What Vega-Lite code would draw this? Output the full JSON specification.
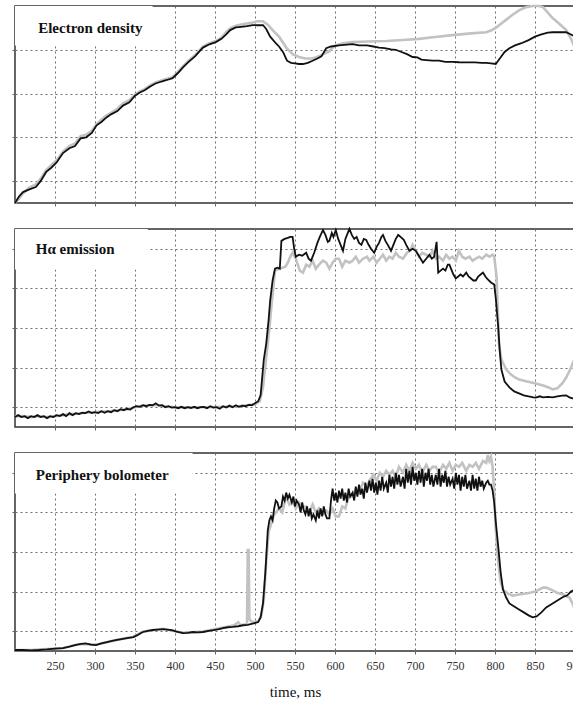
{
"$schema": "https://vega.github.io/schema/vega-lite/v6.json",
"padding": {"left": 9, "top": 0, "right": 0, "bottom": 0},
"background": "white",
"spacing": 26,
"bounds": "flush",
"config": {
 "view": {"stroke": "#333", "strokeWidth": 1.5},
 "axis": {"grid": true, "gridColor": "#6f6f6f", "gridDash": [2, 3], "gridWidth": 1, "tickColor": "#666", "tickSize": 3, "domain": false, "title": null, "labels": false},
 "line": {"clip": true}
},
"datasets": {
"ed_g": [{"t":200,"v":0},{"t":205,"v":0.2},{"t":210,"v":0.45},{"t":218,"v":0.7},{"t":226,"v":0.85},{"t":232,"v":1.1},{"t":239,"v":1.5},{"t":245,"v":1.72},{"t":252,"v":1.95},{"t":260,"v":2.35},{"t":268,"v":2.6},{"t":275,"v":2.72},{"t":282,"v":3.05},{"t":289,"v":3.12},{"t":296,"v":3.3},{"t":302,"v":3.6},{"t":308,"v":3.8},{"t":314,"v":4.0},{"t":320,"v":4.12},{"t":328,"v":4.3},{"t":335,"v":4.55},{"t":343,"v":4.7},{"t":350,"v":4.95},{"t":356,"v":5.1},{"t":362,"v":5.2},{"t":368,"v":5.35},{"t":375,"v":5.5},{"t":383,"v":5.6},{"t":390,"v":5.68},{"t":397,"v":5.75},{"t":404,"v":6.0},{"t":410,"v":6.25},{"t":417,"v":6.5},{"t":425,"v":6.75},{"t":430,"v":6.95},{"t":435,"v":7.15},{"t":443,"v":7.3},{"t":451,"v":7.4},{"t":458,"v":7.55},{"t":464,"v":7.8},{"t":469,"v":7.98},{"t":476,"v":8.1},{"t":483,"v":8.15},{"t":490,"v":8.2},{"t":497,"v":8.25},{"t":503,"v":8.3},{"t":510,"v":8.3},{"t":516,"v":8.15},{"t":522,"v":7.9},{"t":530,"v":7.6},{"t":539,"v":7.1},{"t":547,"v":6.8},{"t":555,"v":6.67},{"t":563,"v":6.6},{"t":572,"v":6.6},{"t":580,"v":6.7},{"t":588,"v":6.85},{"t":592,"v":6.9},{"t":597,"v":7.1},{"t":601,"v":7.2},{"t":610,"v":7.3},{"t":622,"v":7.35},{"t":640,"v":7.38},{"t":664,"v":7.4},{"t":685,"v":7.45},{"t":705,"v":7.5},{"t":725,"v":7.58},{"t":747,"v":7.67},{"t":770,"v":7.75},{"t":789,"v":7.8},{"t":795,"v":7.88},{"t":801,"v":8.0},{"t":808,"v":8.2},{"t":815,"v":8.4},{"t":822,"v":8.6},{"t":830,"v":8.8},{"t":839,"v":8.95},{"t":847,"v":9.0},{"t":855,"v":9.0},{"t":860,"v":8.95},{"t":866,"v":8.7},{"t":872,"v":8.45},{"t":880,"v":8.2},{"t":889,"v":7.9},{"t":895,"v":7.5},{"t":900,"v":7.07}],
"ed_b": [{"t":200,"v":0},{"t":205,"v":0.3},{"t":210,"v":0.5},{"t":218,"v":0.62},{"t":226,"v":0.73},{"t":232,"v":1.0},{"t":239,"v":1.42},{"t":245,"v":1.6},{"t":252,"v":1.85},{"t":260,"v":2.28},{"t":268,"v":2.5},{"t":275,"v":2.6},{"t":282,"v":2.95},{"t":289,"v":3.0},{"t":296,"v":3.2},{"t":302,"v":3.55},{"t":308,"v":3.7},{"t":314,"v":3.9},{"t":320,"v":4.05},{"t":328,"v":4.2},{"t":335,"v":4.45},{"t":343,"v":4.6},{"t":350,"v":4.9},{"t":356,"v":5.05},{"t":362,"v":5.15},{"t":368,"v":5.3},{"t":375,"v":5.45},{"t":383,"v":5.55},{"t":390,"v":5.62},{"t":397,"v":5.7},{"t":404,"v":5.95},{"t":410,"v":6.2},{"t":417,"v":6.45},{"t":425,"v":6.7},{"t":430,"v":6.9},{"t":435,"v":7.1},{"t":443,"v":7.25},{"t":451,"v":7.35},{"t":458,"v":7.5},{"t":464,"v":7.7},{"t":469,"v":7.9},{"t":476,"v":8.02},{"t":483,"v":8.05},{"t":490,"v":8.08},{"t":497,"v":8.13},{"t":503,"v":8.12},{"t":510,"v":8.13},{"t":514,"v":7.95},{"t":519,"v":7.6},{"t":526,"v":7.3},{"t":530,"v":7.15},{"t":535,"v":6.9},{"t":540,"v":6.5},{"t":545,"v":6.4},{"t":550,"v":6.38},{"t":555,"v":6.35},{"t":560,"v":6.35},{"t":566,"v":6.4},{"t":572,"v":6.5},{"t":578,"v":6.6},{"t":583,"v":6.7},{"t":589,"v":7.07},{"t":595,"v":7.15},{"t":605,"v":7.2},{"t":615,"v":7.24},{"t":622,"v":7.26},{"t":630,"v":7.2},{"t":640,"v":7.2},{"t":648,"v":7.15},{"t":655,"v":7.1},{"t":662,"v":7.08},{"t":670,"v":7.02},{"t":676,"v":7.0},{"t":683,"v":6.9},{"t":690,"v":6.8},{"t":697,"v":6.67},{"t":703,"v":6.65},{"t":708,"v":6.55},{"t":714,"v":6.53},{"t":722,"v":6.5},{"t":730,"v":6.5},{"t":738,"v":6.45},{"t":747,"v":6.45},{"t":755,"v":6.43},{"t":765,"v":6.42},{"t":775,"v":6.42},{"t":783,"v":6.4},{"t":789,"v":6.4},{"t":795,"v":6.38},{"t":801,"v":6.35},{"t":806,"v":6.6},{"t":812,"v":6.9},{"t":818,"v":7.07},{"t":825,"v":7.2},{"t":833,"v":7.3},{"t":842,"v":7.44},{"t":850,"v":7.6},{"t":858,"v":7.7},{"t":866,"v":7.78},{"t":872,"v":7.8},{"t":880,"v":7.8},{"t":889,"v":7.8},{"t":895,"v":7.7},{"t":900,"v":7.6}],
"ha_b": [{"t":200,"v":0.5},{"t":204,"v":0.6},{"t":208,"v":0.5},{"t":212,"v":0.55},{"t":216,"v":0.45},{"t":220,"v":0.55},{"t":224,"v":0.5},{"t":228,"v":0.6},{"t":232,"v":0.5},{"t":236,"v":0.55},{"t":240,"v":0.45},{"t":244,"v":0.55},{"t":248,"v":0.5},{"t":252,"v":0.6},{"t":256,"v":0.55},{"t":260,"v":0.65},{"t":264,"v":0.55},{"t":268,"v":0.7},{"t":272,"v":0.6},{"t":276,"v":0.7},{"t":280,"v":0.65},{"t":284,"v":0.72},{"t":288,"v":0.7},{"t":292,"v":0.78},{"t":296,"v":0.7},{"t":300,"v":0.75},{"t":304,"v":0.7},{"t":308,"v":0.8},{"t":312,"v":0.72},{"t":316,"v":0.8},{"t":320,"v":0.75},{"t":324,"v":0.85},{"t":328,"v":0.8},{"t":332,"v":0.9},{"t":336,"v":0.85},{"t":340,"v":0.92},{"t":344,"v":0.88},{"t":348,"v":1.0},{"t":352,"v":1.05},{"t":356,"v":1.02},{"t":360,"v":1.1},{"t":364,"v":1.05},{"t":368,"v":1.12},{"t":372,"v":1.1},{"t":376,"v":1.2},{"t":380,"v":1.08},{"t":384,"v":1.1},{"t":388,"v":1.0},{"t":392,"v":1.05},{"t":396,"v":0.98},{"t":400,"v":1.0},{"t":404,"v":0.95},{"t":408,"v":1.02},{"t":412,"v":0.95},{"t":416,"v":1.0},{"t":420,"v":0.96},{"t":424,"v":1.02},{"t":428,"v":0.95},{"t":432,"v":1.0},{"t":436,"v":1.02},{"t":440,"v":0.95},{"t":444,"v":1.05},{"t":448,"v":0.98},{"t":452,"v":1.0},{"t":456,"v":0.92},{"t":460,"v":1.05},{"t":464,"v":0.98},{"t":468,"v":1.08},{"t":472,"v":1.0},{"t":476,"v":1.1},{"t":480,"v":1.02},{"t":484,"v":1.08},{"t":488,"v":1.05},{"t":492,"v":1.12},{"t":496,"v":1.1},{"t":500,"v":1.2},{"t":504,"v":1.3},{"t":507,"v":1.6},{"t":509,"v":2.5},{"t":511,"v":3.4},{"t":514,"v":4.2},{"t":517,"v":5.4},{"t":519,"v":6.4},{"t":522,"v":7.4},{"t":525,"v":8.0},{"t":528,"v":8.05},{"t":531,"v":8.0},{"t":533,"v":9.4},{"t":537,"v":9.5},{"t":541,"v":9.55},{"t":544,"v":9.6},{"t":547,"v":9.6},{"t":549,"v":9.0},{"t":551,"v":8.6},{"t":555,"v":8.7},{"t":559,"v":8.65},{"t":564,"v":8.8},{"t":567,"v":8.5},{"t":570,"v":8.4},{"t":574,"v":8.8},{"t":578,"v":9.3},{"t":581,"v":9.6},{"t":585,"v":9.95},{"t":588,"v":9.7},{"t":591,"v":9.35},{"t":593,"v":9.4},{"t":596,"v":9.8},{"t":598,"v":9.6},{"t":601,"v":9.95},{"t":604,"v":9.5},{"t":607,"v":9.2},{"t":610,"v":8.9},{"t":613,"v":9.5},{"t":616,"v":9.8},{"t":618,"v":10.0},{"t":621,"v":9.7},{"t":624,"v":9.5},{"t":627,"v":9.6},{"t":630,"v":9.3},{"t":633,"v":9.2},{"t":636,"v":9.5},{"t":639,"v":9.45},{"t":642,"v":9.2},{"t":645,"v":9.0},{"t":649,"v":8.8},{"t":652,"v":9.1},{"t":655,"v":9.3},{"t":658,"v":9.6},{"t":660,"v":9.7},{"t":663,"v":9.4},{"t":666,"v":9.2},{"t":670,"v":8.9},{"t":673,"v":9.2},{"t":676,"v":9.5},{"t":679,"v":9.7},{"t":682,"v":9.6},{"t":686,"v":9.45},{"t":689,"v":9.2},{"t":693,"v":8.9},{"t":697,"v":9.0},{"t":701,"v":8.9},{"t":704,"v":8.7},{"t":707,"v":8.5},{"t":710,"v":8.3},{"t":714,"v":8.5},{"t":718,"v":8.7},{"t":721,"v":8.5},{"t":724,"v":8.6},{"t":727,"v":9.35},{"t":729,"v":7.8},{"t":732,"v":7.9},{"t":735,"v":8.0},{"t":738,"v":7.9},{"t":741,"v":8.2},{"t":743,"v":8.2},{"t":746,"v":7.9},{"t":748,"v":7.7},{"t":751,"v":7.5},{"t":754,"v":7.6},{"t":757,"v":7.7},{"t":760,"v":7.6},{"t":764,"v":7.8},{"t":767,"v":7.6},{"t":770,"v":7.5},{"t":773,"v":7.4},{"t":776,"v":7.4},{"t":779,"v":7.6},{"t":782,"v":7.7},{"t":785,"v":7.8},{"t":788,"v":7.6},{"t":791,"v":7.45},{"t":795,"v":7.3},{"t":799,"v":7.2},{"t":801,"v":6.5},{"t":804,"v":5.05},{"t":806,"v":3.8},{"t":808,"v":2.9},{"t":812,"v":2.3},{"t":818,"v":2.0},{"t":824,"v":1.8},{"t":830,"v":1.7},{"t":836,"v":1.6},{"t":842,"v":1.55},{"t":848,"v":1.5},{"t":851,"v":1.48},{"t":856,"v":1.55},{"t":860,"v":1.5},{"t":866,"v":1.52},{"t":872,"v":1.5},{"t":878,"v":1.55},{"t":884,"v":1.58},{"t":889,"v":1.6},{"t":893,"v":1.5},{"t":897,"v":1.45},{"t":900,"v":1.4}],
"ha_g": [{"t":200,"v":0.55},{"t":210,"v":0.55},{"t":220,"v":0.5},{"t":230,"v":0.55},{"t":240,"v":0.5},{"t":250,"v":0.55},{"t":260,"v":0.6},{"t":270,"v":0.65},{"t":280,"v":0.68},{"t":290,"v":0.72},{"t":300,"v":0.75},{"t":310,"v":0.78},{"t":320,"v":0.8},{"t":330,"v":0.85},{"t":340,"v":0.9},{"t":350,"v":1.0},{"t":360,"v":1.08},{"t":370,"v":1.1},{"t":380,"v":1.1},{"t":390,"v":1.02},{"t":400,"v":1.0},{"t":420,"v":1.0},{"t":440,"v":1.0},{"t":460,"v":1.02},{"t":480,"v":1.05},{"t":500,"v":1.15},{"t":506,"v":1.3},{"t":510,"v":2.0},{"t":514,"v":3.5},{"t":518,"v":5.0},{"t":521,"v":6.3},{"t":525,"v":7.9},{"t":531,"v":8.0},{"t":538,"v":8.1},{"t":541,"v":8.3},{"t":544,"v":8.6},{"t":547,"v":8.8},{"t":551,"v":8.5},{"t":556,"v":7.9},{"t":560,"v":7.8},{"t":564,"v":8.2},{"t":568,"v":8.1},{"t":572,"v":8.4},{"t":576,"v":8.0},{"t":580,"v":8.2},{"t":585,"v":8.4},{"t":589,"v":8.3},{"t":593,"v":8.0},{"t":597,"v":8.3},{"t":601,"v":8.5},{"t":605,"v":8.5},{"t":609,"v":8.1},{"t":613,"v":8.4},{"t":618,"v":8.3},{"t":622,"v":8.4},{"t":626,"v":8.6},{"t":630,"v":8.3},{"t":635,"v":8.5},{"t":640,"v":8.6},{"t":643,"v":8.4},{"t":648,"v":8.6},{"t":652,"v":8.3},{"t":656,"v":8.5},{"t":660,"v":8.7},{"t":664,"v":8.4},{"t":668,"v":8.6},{"t":672,"v":8.5},{"t":676,"v":8.8},{"t":680,"v":8.6},{"t":685,"v":8.5},{"t":690,"v":8.8},{"t":694,"v":8.9},{"t":697,"v":9.2},{"t":701,"v":8.9},{"t":705,"v":8.6},{"t":709,"v":8.8},{"t":714,"v":8.7},{"t":718,"v":8.6},{"t":722,"v":8.9},{"t":726,"v":8.5},{"t":730,"v":8.6},{"t":735,"v":8.4},{"t":739,"v":8.7},{"t":743,"v":8.5},{"t":747,"v":8.6},{"t":751,"v":8.4},{"t":755,"v":8.9},{"t":759,"v":8.6},{"t":763,"v":8.5},{"t":768,"v":8.6},{"t":772,"v":8.4},{"t":776,"v":8.5},{"t":780,"v":8.6},{"t":784,"v":8.5},{"t":789,"v":8.7},{"t":793,"v":8.6},{"t":797,"v":8.7},{"t":799,"v":8.6},{"t":802,"v":7.6},{"t":805,"v":4.2},{"t":808,"v":3.4},{"t":814,"v":2.9},{"t":820,"v":2.65},{"t":825,"v":2.5},{"t":830,"v":2.4},{"t":840,"v":2.3},{"t":851,"v":2.2},{"t":860,"v":2.1},{"t":867,"v":2.0},{"t":872,"v":1.9},{"t":878,"v":1.95},{"t":884,"v":2.2},{"t":889,"v":2.5},{"t":894,"v":2.9},{"t":900,"v":3.5}],
"bo_b": [{"t":200,"v":0.05},{"t":210,"v":0.05},{"t":220,"v":0.03},{"t":230,"v":0.05},{"t":240,"v":0.08},{"t":250,"v":0.12},{"t":260,"v":0.15},{"t":268,"v":0.22},{"t":275,"v":0.3},{"t":281,"v":0.35},{"t":288,"v":0.38},{"t":295,"v":0.32},{"t":301,"v":0.3},{"t":308,"v":0.38},{"t":315,"v":0.45},{"t":320,"v":0.5},{"t":326,"v":0.55},{"t":333,"v":0.6},{"t":340,"v":0.65},{"t":348,"v":0.7},{"t":353,"v":0.8},{"t":357,"v":0.9},{"t":360,"v":0.96},{"t":366,"v":1.02},{"t":372,"v":1.06},{"t":378,"v":1.08},{"t":385,"v":1.1},{"t":390,"v":1.08},{"t":396,"v":1.05},{"t":402,"v":0.98},{"t":410,"v":0.9},{"t":416,"v":0.92},{"t":422,"v":0.96},{"t":428,"v":0.94},{"t":435,"v":0.96},{"t":442,"v":1.02},{"t":448,"v":1.05},{"t":455,"v":1.1},{"t":460,"v":1.16},{"t":466,"v":1.2},{"t":472,"v":1.22},{"t":479,"v":1.25},{"t":485,"v":1.3},{"t":491,"v":1.32},{"t":497,"v":1.38},{"t":504,"v":1.46},{"t":507,"v":1.7},{"t":510,"v":2.4},{"t":513,"v":4.0},{"t":516,"v":6.1},{"t":518,"v":6.6},{"t":520,"v":6.8},{"t":522,"v":6.6},{"t":524,"v":7.2},{"t":526,"v":7.6},{"t":528,"v":7.5},{"t":530,"v":7.2},{"t":533,"v":7.3},{"t":535,"v":7.8},{"t":537,"v":7.6},{"t":539,"v":8.0},{"t":541,"v":7.7},{"t":543,"v":7.9},{"t":546,"v":7.5},{"t":548,"v":7.8},{"t":550,"v":7.3},{"t":552,"v":7.6},{"t":555,"v":7.4},{"t":557,"v":7.0},{"t":559,"v":7.5},{"t":561,"v":7.1},{"t":563,"v":6.9},{"t":565,"v":7.3},{"t":567,"v":6.8},{"t":569,"v":7.2},{"t":571,"v":6.7},{"t":573,"v":6.9},{"t":576,"v":6.6},{"t":578,"v":7.1},{"t":580,"v":6.7},{"t":582,"v":7.2},{"t":584,"v":6.8},{"t":586,"v":7.3},{"t":588,"v":6.9},{"t":590,"v":6.7},{"t":593,"v":6.7},{"t":595,"v":7.6},{"t":597,"v":8.2},{"t":599,"v":7.6},{"t":601,"v":8.0},{"t":603,"v":7.5},{"t":605,"v":8.1},{"t":607,"v":7.7},{"t":609,"v":8.2},{"t":611,"v":7.6},{"t":613,"v":8.0},{"t":615,"v":7.5},{"t":617,"v":8.2},{"t":619,"v":7.8},{"t":622,"v":8.0},{"t":624,"v":7.6},{"t":626,"v":8.3},{"t":628,"v":7.8},{"t":630,"v":8.4},{"t":632,"v":7.9},{"t":634,"v":8.2},{"t":636,"v":7.7},{"t":638,"v":8.5},{"t":640,"v":8.0},{"t":643,"v":8.6},{"t":645,"v":8.1},{"t":647,"v":8.7},{"t":649,"v":8.0},{"t":651,"v":8.5},{"t":653,"v":7.9},{"t":655,"v":8.6},{"t":657,"v":8.1},{"t":659,"v":8.8},{"t":661,"v":8.2},{"t":664,"v":8.5},{"t":666,"v":8.0},{"t":668,"v":8.9},{"t":670,"v":8.3},{"t":672,"v":8.8},{"t":674,"v":8.2},{"t":676,"v":9.0},{"t":678,"v":8.4},{"t":680,"v":8.9},{"t":682,"v":8.3},{"t":685,"v":8.8},{"t":687,"v":8.2},{"t":689,"v":9.2},{"t":691,"v":8.5},{"t":693,"v":9.1},{"t":695,"v":8.4},{"t":697,"v":9.3},{"t":699,"v":8.6},{"t":701,"v":9.0},{"t":703,"v":8.4},{"t":705,"v":9.1},{"t":707,"v":8.5},{"t":709,"v":9.2},{"t":711,"v":8.3},{"t":713,"v":9.0},{"t":715,"v":8.6},{"t":717,"v":9.2},{"t":719,"v":8.4},{"t":721,"v":8.9},{"t":723,"v":8.3},{"t":726,"v":8.9},{"t":728,"v":8.4},{"t":730,"v":9.2},{"t":732,"v":8.3},{"t":734,"v":8.9},{"t":736,"v":8.5},{"t":738,"v":9.1},{"t":740,"v":8.3},{"t":742,"v":8.8},{"t":744,"v":8.4},{"t":747,"v":8.7},{"t":749,"v":8.2},{"t":751,"v":9.0},{"t":753,"v":8.4},{"t":755,"v":8.9},{"t":757,"v":8.1},{"t":759,"v":8.8},{"t":761,"v":8.3},{"t":763,"v":8.9},{"t":765,"v":8.2},{"t":768,"v":8.6},{"t":770,"v":8.1},{"t":772,"v":8.9},{"t":774,"v":8.2},{"t":776,"v":8.7},{"t":778,"v":8.1},{"t":780,"v":8.8},{"t":782,"v":8.3},{"t":784,"v":8.6},{"t":786,"v":8.2},{"t":789,"v":8.5},{"t":791,"v":8.6},{"t":793,"v":8.4},{"t":795,"v":8.4},{"t":797,"v":8.1},{"t":799,"v":7.5},{"t":801,"v":6.5},{"t":804,"v":5.3},{"t":807,"v":4.0},{"t":810,"v":3.1},{"t":814,"v":2.7},{"t":818,"v":2.4},{"t":824,"v":2.25},{"t":830,"v":2.1},{"t":836,"v":1.95},{"t":842,"v":1.8},{"t":847,"v":1.7},{"t":852,"v":1.75},{"t":858,"v":1.95},{"t":864,"v":2.2},{"t":870,"v":2.35},{"t":876,"v":2.5},{"t":880,"v":2.6},{"t":886,"v":2.75},{"t":890,"v":2.8},{"t":895,"v":3.0},{"t":900,"v":3.1}],
"bo_g": [{"t":200,"v":0.05},{"t":220,"v":0.05},{"t":240,"v":0.1},{"t":260,"v":0.15},{"t":281,"v":0.35},{"t":301,"v":0.32},{"t":326,"v":0.55},{"t":348,"v":0.72},{"t":360,"v":0.98},{"t":385,"v":1.12},{"t":410,"v":0.92},{"t":435,"v":0.98},{"t":460,"v":1.18},{"t":474,"v":1.3},{"t":479,"v":1.45},{"t":482,"v":1.3},{"t":488,"v":1.35},{"t":490,"v":1.4},{"t":491,"v":5.1},{"t":492,"v":5.1},{"t":493,"v":1.6},{"t":497,"v":1.45},{"t":504,"v":1.5},{"t":508,"v":1.8},{"t":511,"v":2.6},{"t":514,"v":4.5},{"t":517,"v":6.0},{"t":520,"v":6.4},{"t":523,"v":6.8},{"t":526,"v":7.0},{"t":530,"v":7.2},{"t":534,"v":7.0},{"t":539,"v":7.8},{"t":543,"v":7.4},{"t":547,"v":7.6},{"t":551,"v":7.2},{"t":555,"v":7.5},{"t":559,"v":7.3},{"t":564,"v":7.3},{"t":568,"v":7.0},{"t":572,"v":7.4},{"t":576,"v":7.0},{"t":580,"v":7.2},{"t":584,"v":6.9},{"t":589,"v":7.1},{"t":593,"v":6.9},{"t":597,"v":7.2},{"t":601,"v":6.8},{"t":605,"v":6.8},{"t":609,"v":7.3},{"t":613,"v":7.2},{"t":617,"v":7.8},{"t":622,"v":7.8},{"t":626,"v":8.2},{"t":630,"v":8.0},{"t":635,"v":8.5},{"t":640,"v":8.3},{"t":643,"v":8.6},{"t":648,"v":8.9},{"t":652,"v":8.6},{"t":656,"v":9.0},{"t":660,"v":8.8},{"t":664,"v":9.1},{"t":668,"v":8.9},{"t":672,"v":9.1},{"t":676,"v":8.8},{"t":680,"v":9.3},{"t":685,"v":9.0},{"t":689,"v":9.4},{"t":693,"v":9.1},{"t":697,"v":9.5},{"t":701,"v":9.2},{"t":705,"v":9.4},{"t":709,"v":9.0},{"t":714,"v":9.4},{"t":718,"v":9.1},{"t":722,"v":9.3},{"t":726,"v":9.3},{"t":730,"v":9.0},{"t":735,"v":9.4},{"t":739,"v":9.2},{"t":743,"v":9.5},{"t":747,"v":9.1},{"t":751,"v":9.4},{"t":755,"v":9.3},{"t":759,"v":9.5},{"t":764,"v":9.1},{"t":768,"v":9.4},{"t":772,"v":9.3},{"t":776,"v":9.5},{"t":780,"v":9.2},{"t":785,"v":9.6},{"t":789,"v":9.5},{"t":791,"v":9.9},{"t":793,"v":9.6},{"t":795,"v":9.8},{"t":797,"v":9.3},{"t":799,"v":8.0},{"t":801,"v":6.1},{"t":804,"v":4.5},{"t":807,"v":3.5},{"t":810,"v":3.1},{"t":816,"v":2.9},{"t":822,"v":2.8},{"t":830,"v":2.85},{"t":839,"v":2.9},{"t":845,"v":2.95},{"t":850,"v":3.0},{"t":855,"v":3.1},{"t":860,"v":3.2},{"t":864,"v":3.2},{"t":870,"v":3.1},{"t":875,"v":3.0},{"t":880,"v":2.9},{"t":886,"v":2.85},{"t":890,"v":2.75},{"t":893,"v":2.7},{"t":897,"v":2.4},{"t":900,"v":2.1}]
},
"vconcat": [
{
 "width": 560, "height": 197,
 "layer": [
  {"data": {"name": "ed_g"}, "mark": {"type": "line", "color": "#c2c2c2", "strokeWidth": 2.6},
   "encoding": {
    "x": {"field": "t", "type": "quantitative", "scale": {"domain": [200, 900], "nice": false, "zero": false},
      "axis": {"values": [250,300,350,400,450,500,550,600,650,700,750,800,850]}},
    "y": {"field": "v", "type": "quantitative", "scale": {"domain": [0, 9], "nice": false, "zero": false},
      "axis": {"values": [1,2,3,4,5,6,7,8]}}}},
  {"data": {"values": [{}]}, "mark": {"type": "rect", "color": "white"},
   "encoding": {"x": {"datum": 200, "type": "quantitative"}, "x2": {"datum": 372}, "y": {"datum": 7.2, "type": "quantitative"}, "y2": {"datum": 9}}},
  {"data": {"name": "ed_b"}, "mark": {"type": "line", "color": "#111111", "strokeWidth": 1.8},
   "encoding": {"x": {"field": "t", "type": "quantitative"}, "y": {"field": "v", "type": "quantitative"}}},
  {"data": {"values": [{}]}, "mark": {"type": "text", "text": "Electron density", "font": "Liberation Serif", "fontWeight": "bold", "fontSize": 15, "align": "left", "baseline": "middle", "color": "#111"},
   "encoding": {"x": {"datum": 229, "type": "quantitative"}, "y": {"datum": 8.0, "type": "quantitative"}}}
 ]
},
{
 "width": 560, "height": 198,
 "layer": [
  {"data": {"name": "ha_g"}, "mark": {"type": "line", "color": "#c2c2c2", "strokeWidth": 2.6},
   "encoding": {
    "x": {"field": "t", "type": "quantitative", "scale": {"domain": [200, 900], "nice": false, "zero": false},
      "axis": {"values": [250,300,350,400,450,500,550,600,650,700,750,800,850]}},
    "y": {"field": "v", "type": "quantitative", "scale": {"domain": [0, 10], "nice": false, "zero": false},
      "axis": {"values": [1,2,3,4,5,6,7,8,9]}}}},
  {"data": {"values": [{}]}, "mark": {"type": "rect", "color": "white"},
   "encoding": {"x": {"datum": 200, "type": "quantitative"}, "x2": {"datum": 366}, "y": {"datum": 7.95, "type": "quantitative"}, "y2": {"datum": 10}}},
  {"data": {"name": "ha_b"}, "mark": {"type": "line", "color": "#111111", "strokeWidth": 1.8},
   "encoding": {"x": {"field": "t", "type": "quantitative"}, "y": {"field": "v", "type": "quantitative"}}},
  {"data": {"values": [{}]}, "mark": {"type": "text", "text": "Hα emission", "font": "Liberation Serif", "fontWeight": "bold", "fontSize": 15, "align": "left", "baseline": "middle", "color": "#111"},
   "encoding": {"x": {"datum": 226, "type": "quantitative"}, "y": {"datum": 9.0, "type": "quantitative"}}}
 ]
},
{
 "width": 560, "height": 198,
 "layer": [
  {"data": {"name": "bo_g"}, "mark": {"type": "line", "color": "#c2c2c2", "strokeWidth": 2.6},
   "encoding": {
    "x": {"field": "t", "type": "quantitative", "scale": {"domain": [200, 900], "nice": false, "zero": false},
      "axis": {"values": [250,300,350,400,450,500,550,600,650,700,750,800,850,900], "labels": true,
        "labelFont": "Liberation Sans Narrow", "labelFontSize": 12, "labelColor": "#333", "labelPadding": 6, "labelOverlap": false, "labelFlush": false,
        "title": "time, ms", "titleFont": "Liberation Serif", "titleFontSize": 15, "titleFontWeight": "normal", "titleColor": "#111", "titlePadding": 13}},
    "y": {"field": "v", "type": "quantitative", "scale": {"domain": [0, 10], "nice": false, "zero": false},
      "axis": {"values": [1,2,3,4,5,6,7,8,9]}}}},
  {"data": {"values": [{}]}, "mark": {"type": "rect", "color": "white"},
   "encoding": {"x": {"datum": 200, "type": "quantitative"}, "x2": {"datum": 422}, "y": {"datum": 7.95, "type": "quantitative"}, "y2": {"datum": 10}}},
  {"data": {"name": "bo_b"}, "mark": {"type": "line", "color": "#111111", "strokeWidth": 1.8},
   "encoding": {"x": {"field": "t", "type": "quantitative"}, "y": {"field": "v", "type": "quantitative"}}},
  {"data": {"values": [{}]}, "mark": {"type": "text", "text": "Periphery bolometer", "font": "Liberation Serif", "fontWeight": "bold", "fontSize": 15, "align": "left", "baseline": "middle", "color": "#111"},
   "encoding": {"x": {"datum": 226, "type": "quantitative"}, "y": {"datum": 8.9, "type": "quantitative"}}}
 ]
}
]
}
